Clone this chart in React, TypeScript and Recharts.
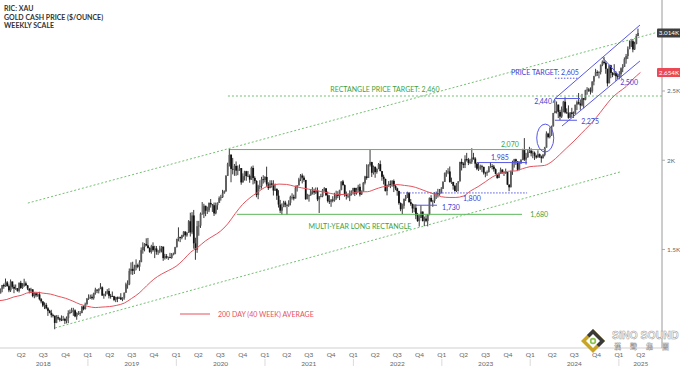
import React from "react";
import { ComposedChart, Bar, Line, XAxis, YAxis, ReferenceLine, ReferenceDot } from "recharts";

const FONT = "Lato, 'Open Sans', sans-serif";
const DAY_MS = 86400000;
const EPOCH = Date.UTC(2018, 0, 1);
const dayOf = (iso: string) => (Date.parse(iso + "T00:00:00Z") - EPOCH) / DAY_MS;

// weekly XAU candles, one value per week starting Mon 1 Jan 2018
const firstOpen = 1302;
const close2018 = [1320,1338,1332,1349,1333,1315,1353,1330,1322,1324,1313,1347,1325,1332,1345,1336,1323,1314,1319,1291,1302,1294,1298,1278,1269,1252,1255,1241,1231,1223,1214,1212,1184,1206,1201,1196,1194,1199,1192,1203,1222,1226,1233,1233,1209,1222,1222,1222,1248,1238,1257,1280,1285];
const high2018 = [1323,1338,1344,1366,1355,1340,1362,1350,1340,1340,1325,1349,1356,1346,1365,1353,1338,1320,1326,1320,1307,1307,1303,1309,1283,1268,1265,1263,1246,1235,1235,1219,1212,1214,1214,1205,1213,1211,1204,1209,1233,1236,1243,1243,1237,1225,1230,1230,1250,1252,1264,1283,1298];
const low2018 = [1302,1307,1322,1330,1331,1307,1308,1322,1303,1317,1309,1306,1321,1321,1331,1334,1316,1302,1305,1286,1282,1286,1288,1273,1261,1246,1238,1237,1211,1221,1205,1205,1160,1183,1195,1189,1191,1193,1180,1182,1183,1218,1222,1211,1206,1196,1215,1211,1222,1233,1236,1256,1275];
const close2019 = [1288,1282,1304,1318,1314,1322,1328,1293,1298,1302,1312,1292,1291,1290,1275,1286,1280,1285,1277,1284,1305,1341,1341,1400,1409,1400,1416,1426,1419,1440,1497,1513,1527,1520,1507,1488,1516,1497,1505,1489,1490,1505,1514,1459,1468,1462,1464,1460,1476,1479,1511];
const high2019 = [1297,1298,1305,1326,1319,1323,1346,1332,1301,1311,1320,1324,1300,1310,1292,1288,1289,1289,1303,1286,1306,1348,1358,1411,1439,1442,1428,1453,1433,1449,1510,1535,1531,1555,1557,1511,1523,1535,1518,1517,1498,1518,1517,1513,1479,1478,1466,1484,1483,1485,1513];
const low2019 = [1279,1276,1276,1297,1303,1302,1320,1292,1280,1290,1298,1281,1280,1288,1270,1266,1266,1279,1275,1270,1276,1305,1322,1337,1384,1382,1386,1403,1412,1400,1441,1480,1491,1516,1505,1484,1480,1490,1459,1475,1474,1482,1486,1446,1452,1456,1450,1458,1456,1472,1477];
const close2020 = [1552,1562,1557,1571,1589,1570,1584,1643,1585,1674,1530,1498,1617,1620,1683,1683,1727,1700,1702,1743,1735,1730,1685,1730,1743,1771,1775,1798,1810,1902,1975,2035,1945,1940,1964,1934,1940,1950,1862,1900,1930,1900,1902,1879,1951,1889,1871,1788,1839,1840,1881,1877,1895];
const high2020 = [1553,1611,1563,1573,1591,1591,1585,1649,1689,1692,1704,1558,1645,1645,1690,1748,1738,1722,1722,1745,1765,1733,1745,1745,1746,1780,1789,1818,1815,1906,1984,2075,2040,2015,1976,1992,1966,1973,1912,1917,1933,1933,1932,1911,1960,1966,1899,1875,1848,1875,1896,1906,1900];
const low2020 = [1510,1540,1536,1550,1563,1548,1563,1582,1564,1576,1504,1451,1484,1568,1608,1680,1660,1670,1682,1692,1717,1693,1671,1680,1705,1743,1756,1771,1795,1806,1901,1960,1863,1911,1902,1902,1906,1933,1848,1865,1873,1872,1894,1860,1877,1850,1855,1775,1764,1820,1825,1855,1862];
const close2021 = [1850,1828,1856,1848,1814,1824,1784,1734,1700,1720,1745,1733,1729,1744,1777,1777,1768,1831,1844,1881,1904,1891,1877,1764,1781,1787,1808,1812,1802,1814,1763,1779,1781,1818,1827,1787,1754,1750,1761,1757,1768,1793,1783,1818,1868,1846,1792,1783,1783,1798,1811,1829];
const high2021 = [1959,1863,1875,1875,1875,1855,1826,1816,1760,1740,1755,1755,1733,1758,1784,1798,1790,1843,1846,1890,1913,1916,1903,1877,1795,1791,1818,1834,1825,1832,1832,1782,1795,1823,1834,1828,1808,1787,1765,1781,1801,1813,1810,1818,1868,1877,1850,1808,1793,1815,1815,1830];
const low2021 = [1836,1817,1829,1831,1785,1811,1760,1717,1687,1677,1719,1719,1677,1721,1729,1762,1757,1771,1808,1844,1870,1856,1866,1761,1765,1750,1783,1791,1789,1794,1753,1687,1775,1775,1807,1782,1745,1737,1721,1746,1750,1760,1770,1759,1815,1843,1778,1762,1770,1753,1785,1790];
const close2022 = [1797,1817,1836,1791,1808,1859,1898,1889,1970,1988,1921,1958,1925,1945,1975,1931,1896,1883,1811,1846,1853,1851,1871,1840,1827,1811,1742,1708,1727,1766,1775,1802,1747,1737,1712,1716,1675,1644,1661,1695,1644,1657,1645,1681,1771,1751,1755,1797,1797,1793,1798,1824];
const high2022 = [1831,1830,1848,1854,1814,1865,1902,1974,1974,2070,1990,1966,1960,1948,1982,1998,1920,1909,1885,1849,1870,1874,1876,1880,1847,1831,1813,1746,1739,1767,1788,1807,1802,1765,1740,1735,1735,1688,1676,1730,1688,1668,1675,1682,1774,1787,1760,1804,1808,1824,1823,1834];
const low2022 = [1782,1790,1805,1780,1788,1808,1850,1878,1889,1960,1895,1910,1890,1915,1943,1930,1872,1850,1808,1786,1836,1828,1836,1805,1816,1784,1733,1697,1681,1711,1754,1771,1745,1727,1688,1691,1654,1640,1615,1660,1642,1617,1638,1616,1675,1747,1721,1742,1765,1773,1784,1797];
const close2023 = [1865,1920,1926,1929,1865,1865,1842,1811,1856,1868,1989,1978,1969,2008,2004,1983,1990,2017,2011,1978,1946,1948,1961,1958,1921,1919,1925,1955,1962,1959,1943,1914,1889,1915,1940,1919,1924,1925,1849,1833,1933,1982,2006,1993,1940,1981,2001,2072,2004,2019,2053,2063];
const high2023 = [1869,1922,1937,1949,1960,1891,1861,1846,1858,1870,1990,2010,1987,2032,2048,2015,2009,2079,2048,2020,1985,1983,1972,1971,1958,1927,1935,1963,1988,1975,1970,1948,1916,1924,1953,1943,1929,1947,1926,1850,1933,1997,2009,2010,1992,1993,2007,2075,2148,2048,2071,2088];
const low2023 = [1823,1868,1896,1912,1861,1853,1819,1808,1805,1809,1874,1935,1950,1950,1992,1969,1975,1977,2003,1952,1937,1932,1939,1925,1910,1893,1902,1922,1952,1942,1928,1911,1884,1888,1914,1915,1901,1914,1846,1810,1843,1908,1953,1970,1931,1936,1976,2001,1995,1973,2016,2047];
const close2024 = [2045,2049,2029,2018,2039,2024,2013,2035,2083,2179,2155,2165,2232,2329,2344,2392,2337,2302,2360,2415,2333,2327,2293,2333,2322,2326,2392,2411,2401,2387,2443,2431,2507,2512,2503,2497,2577,2622,2658,2654,2657,2721,2747,2736,2685,2563,2716,2650,2633,2648,2622,2621,2640];
const high2024 = [2078,2062,2057,2036,2065,2044,2031,2041,2088,2195,2185,2223,2236,2330,2432,2417,2394,2352,2378,2422,2450,2364,2387,2335,2368,2340,2392,2425,2484,2433,2477,2443,2510,2531,2525,2529,2580,2625,2685,2672,2664,2722,2759,2790,2750,2687,2721,2720,2657,2726,2664,2639,2665];
const low2024 = [2025,2013,2002,2010,2031,2015,1984,2012,2025,2083,2146,2146,2164,2228,2326,2325,2291,2277,2292,2334,2325,2323,2286,2293,2295,2293,2319,2351,2393,2353,2380,2364,2426,2470,2492,2472,2485,2546,2622,2624,2604,2637,2708,2724,2643,2537,2564,2605,2614,2627,2583,2599,2596];
const close2025 = [2690,2703,2770,2798,2861,2883,2936,2858,2910,2984,3014];
const high2025 = [2697,2726,2786,2817,2886,2942,2955,2956,2930,3005,3057];
const low2025 = [2615,2656,2701,2730,2772,2864,2880,2832,2853,2906,2999];

// 200 day (40 week) average, month-end readings from Dec 2017 to Mar 2025
const maValues = [1272,
  1277,1287,1294,1305,1307,1303,1299,1290,1282,1270,1257,1249,
  1244,1246,1248,1253,1262,1281,1303,1334,1363,1385,1402,1421,
  1452,1487,1512,1542,1566,1590,1629,1684,1734,1772,1802,1832,
  1845,1852,1850,1840,1830,1822,1814,1805,1797,1790,1792,1800,
  1806,1807,1821,1835,1842,1849,1844,1838,1825,1808,1794,1778,
  1774,1774,1782,1812,1837,1866,1897,1917,1930,1932,1946,1959,
  1963,1967,1992,2034,2082,2128,2182,2236,2296,2368,2438,2491,
  2536,2597,2654];

const quarterNames = ["Q1", "Q2", "Q3", "Q4"];
const yearLabels = ["2018", "2019", "2020", "2021", "2022", "2023", "2024", "2025"];
const yearLabelQuarter = [3, 3, 3, 3, 3, 3, 3, 2];
const yTicks = [1500, 2000, 2500, 2654, 3014];

// chart annotations: [start date, start price, end date, end price]
const dottedGreenSegs: [string, number, string, number][] = [
  ["2018-04-28", 1742, "2025-06-12", 3023],
  ["2018-08-18", 1165, "2025-01-06", 1926],
  ["2020-08-01", 2460, "2025-06-29", 2460],
];
const solidGreenSegs: [string, number, string, number][] = [
  ["2020-08-09", 2070, "2024-03-02", 2070],
  ["2020-09-07", 1680, "2023-11-28", 1680],
];
const solidBlueSegs: [string, number, string, number][] = [
  ["2022-09-12", 1730, "2022-12-12", 1730],
  ["2023-05-26", 1985, "2023-12-19", 1985],
  ["2024-04-12", 2440, "2024-07-25", 2440],
  ["2024-04-12", 2275, "2024-07-12", 2275],
  ["2024-04-12", 2440, "2025-03-29", 3092],
  ["2024-05-11", 2233, "2025-03-29", 2754],
  ["2024-10-23", 2790, "2025-01-14", 2600],
  ["2024-04-04", 2405, "2024-04-12", 2440],
];
const dottedBlueSegs: [string, number, string, number][] = [
  ["2022-07-13", 1800, "2023-12-19", 1800],
  ["2024-04-12", 2605, "2024-07-20", 2605],
];
const greenNotes: [string, string, number][] = [
  ["RECTANGLE PRICE TARGET: 2,460", "2022-05-11", 2516],
  ["2,070", "2023-10-09", 2108],
  ["1,680", "2024-02-07", 1681],
  ["MULTI-YEAR LONG RECTANGLE", "2022-01-28", 1618],
];
const blueNotes: [string, string, number][] = [
  ["1,985", "2023-08-29", 2021],
  ["1,800", "2023-05-05", 1771],
  ["1,730", "2023-02-08", 1722],
  ["2,440", "2024-02-23", 2421],
  ["2,275", "2024-09-04", 2270],
  ["PRICE TARGET: 2,605", "2024-03-02", 2658],
  ["2,500", "2025-02-12", 2574],
];
const breakoutMark: [string, number] = ["2024-03-03", 2148];

const closes = [...close2018, ...close2019, ...close2020, ...close2021, ...close2022, ...close2023, ...close2024, ...close2025];
const highs = [...high2018, ...high2019, ...high2020, ...high2021, ...high2022, ...high2023, ...high2024, ...high2025];
const lows = [...low2018, ...low2019, ...low2020, ...low2021, ...low2022, ...low2023, ...low2024, ...low2025];

const candles = closes.map((c, i) => {
  const o = i === 0 ? firstOpen : closes[i - 1];
  const h = Math.max(highs[i], o, c);
  const l = Math.min(lows[i], o, c);
  return { t: 7 * i + 4, open: o, close: c, range: [l, h], body: [Math.min(o, c), Math.max(o, c)] };
});

// month-end x position for each average reading
const maRows = maValues.map((v, i) => ({ t: (Date.UTC(2018, i, 1) - EPOCH) / DAY_MS - 1, ma: v }));

const quarterTicks: number[] = [];
yearLabels.forEach((y) => {
  [0, 3, 6, 9].forEach((m) => {
    const d = (Date.UTC(+y, m, 1) - EPOCH) / DAY_MS;
    if (d > 2 && d < 2735) quarterTicks.push(d);
  });
});

const fmtK = (v: number) => `${+(v / 1000).toFixed(3)}K`;

const XTick = (p: any) => {
  const d = new Date(EPOCH + p.payload.value * DAY_MS);
  const q = Math.floor(d.getUTCMonth() / 3);
  const yi = d.getUTCFullYear() - 2018;
  return (
    <g>
      <text x={p.x} y={357} textAnchor="middle" fontSize={6.5} fill="#666" fontFamily={FONT}>{quarterNames[q]}</text>
      {yearLabelQuarter[yi] === q + 1 && (
        <text x={p.x} y={365.5} textAnchor="middle" fontSize={6.5} fill="#666" fontFamily={FONT}>{yearLabels[yi]}</text>
      )}
      {q === 0 && <line x1={p.x} x2={p.x} y1={359} y2={366} stroke="#d0d0d0" strokeWidth={0.8} />}
    </g>
  );
};

const YTick = (p: any) => {
  const v = p.payload.value;
  const y = p.y;
  const ax = 662;
  if (v === 3014 || v === 2654) {
    const bg = v === 3014 ? "#3e3e3e" : "#ea4a55";
    return (
      <g>
        <rect x={ax - 5} y={y - 4.5} width={24} height={9} fill={bg} rx={1} />
        <text x={ax + 7} y={y + 2.3} textAnchor="middle" fontSize={6.3} fill="#fff" fontFamily={FONT}>{fmtK(v)}</text>
      </g>
    );
  }
  return (
    <g>
      <line x1={ax} x2={ax + 3} y1={y} y2={y} stroke="#999" strokeWidth={0.8} />
      <text x={ax + 5} y={y + 2.3} fontSize={6.5} fill="#666" fontFamily={FONT}>{fmtK(v)}</text>
    </g>
  );
};

const Wick = (p: any) => {
  const cx = p.x + p.width / 2;
  const top = Math.min(p.y, p.y + p.height);
  return <line x1={cx} x2={cx} y1={top} y2={top + Math.abs(p.height)} stroke="#222" strokeWidth={0.9} />;
};

const Body = (p: any) => {
  const cx = p.x + p.width / 2;
  const top = Math.min(p.y, p.y + p.height);
  const h = Math.max(Math.abs(p.height), 0.8);
  const up = p.payload.close >= p.payload.open;
  return <rect x={cx - 0.9} y={top} width={1.8} height={h} fill={up ? "#5c5c5c" : "#111"} />;
};

const noteShape = (text: string, color: string) => (p: any) => (
  <text x={p.cx} y={p.cy} textAnchor="middle" dominantBaseline="central" fontSize={7} fill={color} fontFamily={FONT}>{text}</text>
);

const seg = (s: [string, number, string, number]) => [
  { x: dayOf(s[0]), y: s[1] },
  { x: dayOf(s[2]), y: s[3] },
];

export default function App() {
  return (
    <div style={{ position: "absolute", left: 0, top: 0, width: 680, height: 366, background: "#fff" }}>
      <ComposedChart width={680} height={366} data={candles} margin={{ top: 0, right: 0, bottom: 0, left: 0 }} barGap={-1}>
        <XAxis type="number" dataKey="t" domain={[2, 2735]} allowDataOverflow ticks={quarterTicks} interval={0}
          tick={XTick} tickLine={false} axisLine={{ stroke: "#cfcfcf" }} height={18} />
        <YAxis orientation="right" scale="log" domain={[1092, 3352]} allowDataOverflow ticks={yTicks} interval={0}
          tick={YTick} tickLine={false} axisLine={{ stroke: "#9a9a9a" }} width={18} />
        {dottedGreenSegs.map((s, i) => (
          <ReferenceLine key={"dg" + i} segment={seg(s)} stroke="#72c172" strokeDasharray="2 2" strokeWidth={1} ifOverflow="visible" />
        ))}
        {solidGreenSegs.map((s, i) => (
          <ReferenceLine key={"sg" + i} segment={seg(s)} stroke="#5cb85c" strokeWidth={1} ifOverflow="visible" />
        ))}
        {solidBlueSegs.map((s, i) => (
          <ReferenceLine key={"sb" + i} segment={seg(s)} stroke="#5757e3" strokeWidth={1} ifOverflow="visible" />
        ))}
        {dottedBlueSegs.map((s, i) => (
          <ReferenceLine key={"db" + i} segment={seg(s)} stroke="#5757e3" strokeDasharray="1.5 1.5" strokeWidth={1} ifOverflow="visible" />
        ))}
        <Bar dataKey="range" barSize={1} shape={Wick} isAnimationActive={false} />
        <Bar dataKey="body" barSize={1} shape={Body} isAnimationActive={false} />
        <Line data={maRows} dataKey="ma" type="monotone" dot={false} activeDot={false} stroke="#e5525c" strokeWidth={1} isAnimationActive={false} />
        <ReferenceDot x={dayOf(breakoutMark[0])} y={breakoutMark[1]} r={0} ifOverflow="visible"
          shape={(p: any) => <ellipse cx={p.cx} cy={p.cy} rx={8.5} ry={14} fill="none" stroke="#5757e3" strokeWidth={1} />} />
        {greenNotes.map((n, i) => (
          <ReferenceDot key={"gn" + i} x={dayOf(n[1])} y={n[2]} r={0} ifOverflow="visible" shape={noteShape(n[0], "#3d9f3d")} />
        ))}
        {blueNotes.map((n, i) => (
          <ReferenceDot key={"bn" + i} x={dayOf(n[1])} y={n[2]} r={0} ifOverflow="visible" shape={noteShape(n[0], "#4141d2")} />
        ))}
      </ComposedChart>
      <svg width={680} height={366} style={{ position: "absolute", left: 0, top: 0, pointerEvents: "none" }}>
        <g fontFamily={FONT} fontWeight={700} fontSize={7} fill="#333">
          <text x={4} y={11}>RIC: XAU</text>
          <text x={4} y={19.5}>GOLD CASH PRICE ($/OUNCE)</text>
          <text x={4} y={28}>WEEKLY SCALE</text>
        </g>
        <line x1={180} x2={210} y1={314} y2={314} stroke="#e5525c" strokeWidth={1} />
        <text x={218} y={316.5} fontSize={7} fill="#e5525c" fontFamily={FONT}>200 DAY (40 WEEK) AVERAGE</text>
        <g transform="translate(593,341)">
          <polygon points="0,-12 12,0 0,12 -12,0" fill="#c9a526" />
          <polygon points="0,-12 12,0 6,6 -6,-6" fill="#3a3a3a" />
          <polygon points="0,-7 7,0 0,7 -7,0" fill="#fff" />
          <circle r={3.2} fill="#8bc34a" />
          <circle r={1.5} fill="#fff" />
        </g>
        <text x={612} y={339} fontSize={10.5} fontWeight={700} fill="#fff" stroke="#9a9a9a" strokeWidth={0.5} fontFamily="'Liberation Sans', Arial, sans-serif">SiNO SOUND</text>
        <text x={614} y={349} fontSize={7} fontWeight={700} fill="#fff" stroke="#9a9a9a" strokeWidth={0.4} fontFamily="'Noto Sans CJK TC', sans-serif" letterSpacing={9}>漢聲集團</text>
      </svg>
    </div>
  );
}
